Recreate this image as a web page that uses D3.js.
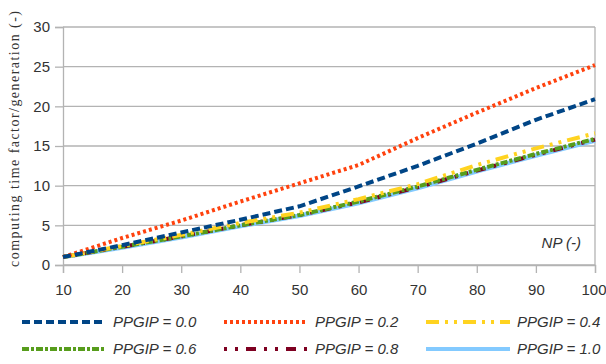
<!DOCTYPE html>
<html>
<head>
<meta charset="utf-8">
<script src="https://cdn.jsdelivr.net/npm/d3@7"></script>
<style>
  body { margin: 0; background: #fff; }
  svg { display: block; }
</style>
</head>
<body>
<div id="chart"></div>
<script>
// x values (NP)
const npValues = [10, 20, 30, 40, 50, 60, 70, 80, 90, 100];
const xTicks = [10, 20, 30, 40, 50, 60, 70, 80, 90, 100];
const yTicks = [0, 5, 10, 15, 20, 25, 30];

// one array per PPGIP series
const ppgip00 = [1.0, 2.5, 4.1, 5.7, 7.4, 9.9, 12.5, 15.3, 18.3, 20.9];
const ppgip02 = [1.0, 3.4, 5.6, 8.0, 10.3, 12.6, 16.0, 19.2, 22.3, 25.2];
const ppgip04 = [1.0, 2.4, 3.8, 5.3, 6.6, 8.3, 10.2, 12.6, 14.7, 16.6];
const ppgip06 = [1.0, 2.3, 3.6, 5.0, 6.3, 8.0, 9.9, 12.0, 14.0, 15.9];
const ppgip08 = [1.0, 2.3, 3.6, 5.0, 6.3, 7.9, 9.8, 11.9, 13.9, 15.8];
const ppgip10 = [1.0, 2.2, 3.5, 4.9, 6.2, 7.8, 9.7, 11.8, 13.8, 15.7];

const seriesLabels = ['PPGIP = 0.0', 'PPGIP = 0.2', 'PPGIP = 0.4', 'PPGIP = 0.6', 'PPGIP = 0.8', 'PPGIP = 1.0'];

const series = [
  { label: seriesLabels[0], values: ppgip00, color: '#004586', dash: '8,4' },
  { label: seriesLabels[1], values: ppgip02, color: '#ff420e', dash: '3,3' },
  { label: seriesLabels[2], values: ppgip04, color: '#ffd320', dash: '13,6,3,6,3,6' },
  { label: seriesLabels[3], values: ppgip06, color: '#579d1c', dash: '7,2,3,2' },
  { label: seriesLabels[4], values: ppgip08, color: '#7e0021', dash: '3,8,3,8,10,8' },
  { label: seriesLabels[5], values: ppgip10, color: '#83caff', dash: null }
];

const width = 606, height = 364;
const plot = { left: 63, right: 595, top: 27, bottom: 265 };

const svg = d3.select('#chart').append('svg')
  .attr('width', width)
  .attr('height', height);

const x = d3.scaleLinear().domain([10, 100]).range([plot.left, plot.right]);
const y = d3.scaleLinear().domain([0, 30]).range([plot.bottom, plot.top]);

const gridColor = '#b3b3b3';
const textColor = '#333';

// horizontal grid
svg.append('g')
  .selectAll('line')
  .data(yTicks)
  .join('line')
  .attr('x1', plot.left)
  .attr('x2', plot.right)
  .attr('y1', d => y(d))
  .attr('y2', d => y(d))
  .attr('stroke', gridColor)
  .attr('stroke-width', 1.3);

// right border
svg.append('line')
  .attr('x1', plot.right).attr('x2', plot.right)
  .attr('y1', plot.top).attr('y2', plot.bottom)
  .attr('stroke', gridColor).attr('stroke-width', 1.3);

// y axis
const yAxis = svg.append('g')
  .attr('transform', `translate(${plot.left},0)`)
  .call(d3.axisLeft(y).tickValues(yTicks).tickSize(8).tickPadding(5));
yAxis.select('.domain').attr('stroke', gridColor).attr('stroke-width', 1.3);
yAxis.selectAll('.tick line').attr('stroke', gridColor).attr('stroke-width', 1.3);
yAxis.selectAll('.tick text')
  .attr('fill', textColor)
  .style('font-family', '"Liberation Sans", Arial, sans-serif')
  .style('font-size', '15px');

// x axis
const xAxis = svg.append('g')
  .attr('transform', `translate(0,${plot.bottom})`)
  .call(d3.axisBottom(x).tickValues(xTicks).tickSize(8).tickPadding(11));
xAxis.select('.domain').attr('stroke', gridColor).attr('stroke-width', 1.3);
xAxis.selectAll('.tick line').attr('stroke', gridColor).attr('stroke-width', 1.3);
xAxis.selectAll('.tick text')
  .attr('fill', textColor)
  .style('font-family', '"Liberation Sans", Arial, sans-serif')
  .style('font-size', '15px');
// keep the last label inside the picture
xAxis.selectAll('.tick text').filter(d => d === 100).attr('text-anchor', 'end').attr('x', 11);

// lines, drawn last series first so 0.0 sits on top
const line = d3.line()
  .x((d, i) => x(npValues[i]))
  .y(d => y(d));

svg.append('g')
  .selectAll('path')
  .data(series.slice().reverse())
  .join('path')
  .attr('d', d => line(d.values))
  .attr('fill', 'none')
  .attr('stroke', d => d.color)
  .attr('stroke-width', d => d.dash ? 4 : 4.5)
  .attr('stroke-dasharray', d => d.dash);

// axis titles
svg.append('text')
  .attr('x', 581)
  .attr('y', 248)
  .attr('text-anchor', 'end')
  .attr('fill', textColor)
  .style('font-family', '"Liberation Sans", Arial, sans-serif')
  .style('font-size', '15px')
  .style('font-style', 'italic')
  .text('NP (-)');

svg.append('text')
  .attr('transform', 'translate(19,139) rotate(-90)')
  .attr('text-anchor', 'middle')
  .attr('fill', textColor)
  .attr('textLength', 256)
  .attr('lengthAdjust', 'spacing')
  .style('font-family', '"Liberation Serif", "Times New Roman", serif')
  .style('font-size', '14px')
  .text('computing time factor/generation (-)');

// legend
const legend = svg.append('g');
const legendItems = legend.selectAll('g')
  .data(series)
  .join('g')
  .attr('transform', (d, i) => `translate(${22 + (i % 3) * 202},${i < 3 ? 322 : 349})`);

legendItems.append('line')
  .attr('x1', 0).attr('x2', 84)
  .attr('y1', 0).attr('y2', 0)
  .attr('stroke', d => d.color)
  .attr('stroke-width', 4)
  .attr('stroke-dasharray', d => d.dash);

legendItems.append('text')
  .attr('x', 91)
  .attr('y', 0)
  .attr('dy', '0.35em')
  .attr('fill', textColor)
  .style('font-family', '"Liberation Sans", Arial, sans-serif')
  .style('font-size', '15px')
  .style('font-style', 'italic')
  .text(d => d.label);
</script>
</body>
</html>
